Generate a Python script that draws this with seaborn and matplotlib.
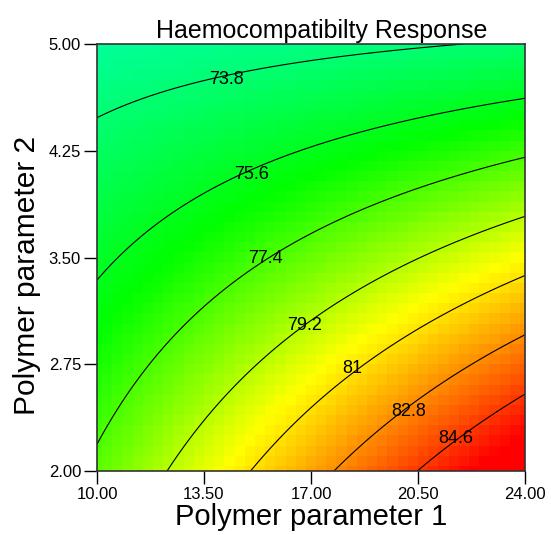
import numpy as np
import matplotlib
matplotlib.use("Agg")
import matplotlib.pyplot as plt
import seaborn as sns
from matplotlib.colors import LinearSegmentedColormap

pt_x = [10, 10, 10, 12.29, 15.04, 17.75, 20.53, 24, 24, 24, 24, 24, 24, 21.8,
        14.19, 15.04, 15.5, 16.8, 18.34, 20.2, 21.74,
        11.73, 11.73, 14.12, 17.36, 19.91, 19.91, 16.64]
pt_y = [4.49, 3.34, 2.19, 2, 2, 2, 2, 4.62, 4.21, 3.78, 3.37, 2.95, 2.55, 5,
        4.77, 4.10, 3.49, 3.02, 2.72, 2.43, 2.23,
        3.70, 2.75, 2.51, 2.51, 3.44, 3.93, 4.26]
pt_z = [73.8, 75.6, 77.4, 79.2, 81, 82.8, 84.6, 75.6, 77.4, 79.2, 81, 82.8, 84.6, 73.8,
        73.8, 75.6, 77.4, 79.2, 81, 82.8, 84.6,
        75.6, 77.4, 79.2, 81, 79.2, 77.4, 75.6]

levels = [73.8, 75.6, 77.4, 79.2, 81.0, 82.8, 84.6]
label_pos = [(14.22, 4.754), (15.04, 4.086), (15.5, 3.49), (16.8, 3.02),
             (18.34, 2.72), (20.21, 2.42), (21.74, 2.23)]
xticks = [10.00, 13.50, 17.00, 20.50, 24.00]
yticks = [2.00, 2.75, 3.50, 4.25, 5.00]

# quadratic response surface fitted to the read points
def design(x, y):
    u = (np.asarray(x) - 17) / 7
    v = (np.asarray(y) - 3.5) / 1.5
    return np.stack([np.ones_like(u), u, v, u * u, v * v, u * v], axis=-1)

coef, *_ = np.linalg.lstsq(design(pt_x, pt_y), np.array(pt_z), rcond=None)

# coarse cells for the colour map, finer grid for the contour lines
cx = np.linspace(10, 24, 43)
cy = np.linspace(2, 5, 43)
CX, CY = np.meshgrid(cx, cy)
CZ = design(CX, CY) @ coef

fx = np.linspace(10, 24, 120)
fy = np.linspace(2, 5, 120)
FX, FY = np.meshgrid(fx, fy)
FZ = design(FX, FY) @ coef

sns.set_style("ticks")
plt.rcParams['font.family'] = ['Liberation Sans', 'DejaVu Sans']
plt.rcParams['text.color'] = 'black'
plt.rcParams['xtick.color'] = 'black'
plt.rcParams['ytick.color'] = 'black'
plt.rcParams['axes.labelcolor'] = 'black'

zmin, zmax = 72.8, 85.8
stops = [(72.8, "#00ffa0"), (76.2, "#00ff00"), (80.4, "#ffff00"), (85.8, "#ff0000")]
cmap = LinearSegmentedColormap.from_list(
    "resp", [((v - zmin) / (zmax - zmin), c) for v, c in stops])

fig = plt.figure(figsize=(5.51, 5.35), dpi=100)
ax = fig.add_axes([97 / 551, 1 - 471 / 535, 428 / 551, 427 / 535])

ax.pcolormesh(CX, CY, CZ, cmap=cmap, vmin=zmin, vmax=zmax, shading="nearest")
cs = ax.contour(FX, FY, FZ, levels=levels, colors="black", linewidths=0.8)
labels = ax.clabel(cs, fmt=lambda v: f"{v:g}", fontsize=13, inline=False,
                   manual=label_pos)
for t in labels:
    t.set_rotation(0)
    lv = float(t.get_text())
    t.set_position(label_pos[levels.index(min(levels, key=lambda L: abs(L - lv)))])

ax.set_xlim(10, 24)
ax.set_ylim(2, 5)
ax.set_xticks(xticks)
ax.set_yticks(yticks)
ax.set_xticklabels([f"{t:.2f}" for t in xticks], fontsize=12)
ax.set_yticklabels([f"{t:.2f}" for t in yticks], fontsize=12)
ax.tick_params(axis="both", length=9.5, width=1, color="black", pad=2)
for s in ax.spines.values():
    s.set_color("#333333")
    s.set_linewidth(1.2)

ax.set_xlabel("Polymer parameter 1", fontsize=21, labelpad=1)
ax.set_ylabel("Polymer parameter 2", fontsize=21.5)
ax.yaxis.set_label_coords(-0.13, 0.457)
ax.set_title("Haemocompatibilty Response", fontsize=18, x=0.526, pad=4)

fig.savefig("out.png", dpi=100)
